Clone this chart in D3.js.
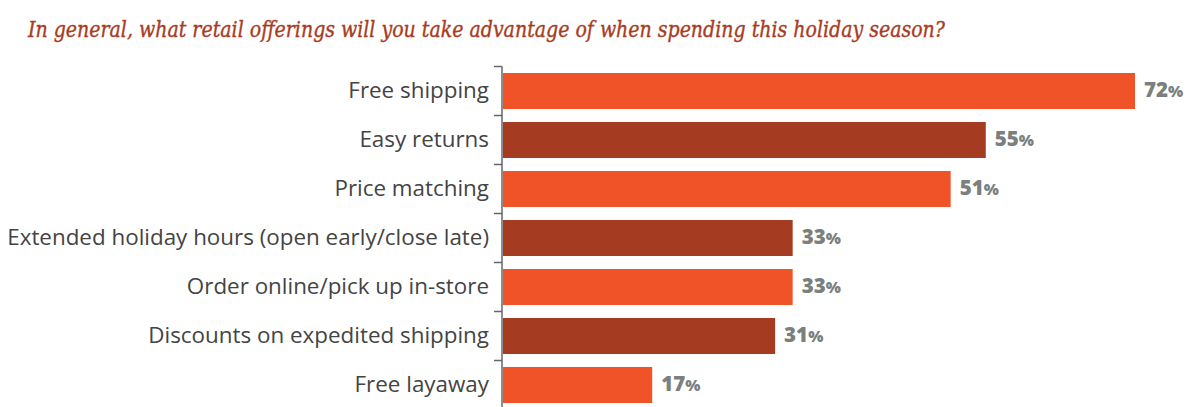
<!DOCTYPE html>
<html>
<head>
<meta charset="utf-8">
<script src="https://cdn.jsdelivr.net/npm/d3@7"></script>
<style>
  html, body { margin: 0; padding: 0; background: #ffffff; }
  svg { display: block; }
</style>
</head>
<body>
<svg id="chart" width="1194" height="407"></svg>
<script>
// Survey question and answers
const title = "In general, what retail offerings will you take advantage of when spending this holiday season?";
const categories = [
  "Free shipping",
  "Easy returns",
  "Price matching",
  "Extended holiday hours (open early/close late)",
  "Order online/pick up in-store",
  "Discounts on expedited shipping",
  "Free layaway"
];
const values = [72, 55, 51, 33, 33, 31, 17];
const barColors = ["#f05327", "#a53c22"];

const svg = d3.select("#chart");

// Scales
const x = d3.scaleLinear().domain([0, 72]).range([503, 1135]);
const y = d3.scaleBand()
  .domain(categories)
  .range([66.5, 409.5])
  .paddingInner(0.265)
  .paddingOuter(0.1325);
const halfGap = (y.step() - y.bandwidth()) / 2;

// Title
svg.append("text")
  .attr("x", 28)
  .attr("y", 37)
  .attr("textLength", 917)
  .attr("lengthAdjust", "spacingAndGlyphs")
  .style("font-family", "'DejaVu Serif', serif")
  .style("font-style", "italic")
  .style("font-size", "23px")
  .style("fill", "#a83c22")
  .style("stroke", "#a83c22")
  .style("stroke-width", 0.4)
  .text(title);

// Bars
svg.append("g")
  .selectAll("rect")
  .data(categories)
  .join("rect")
  .attr("x", x(0))
  .attr("y", d => y(d))
  .attr("width", (d, i) => x(values[i]) - x(0))
  .attr("height", y.bandwidth())
  .attr("fill", (d, i) => barColors[i % 2]);

// Axis line with ticks between categories
const axisG = svg.append("g");
axisG.append("line")
  .attr("x1", 502).attr("x2", 502)
  .attr("y1", y(categories[0]) - halfGap)
  .attr("y2", 407)
  .attr("stroke", "#666")
  .attr("stroke-width", 1.5);
axisG.selectAll(".tick")
  .data(categories)
  .join("line")
  .attr("x1", 494).attr("x2", 502)
  .attr("y1", d => y(d) - halfGap)
  .attr("y2", d => y(d) - halfGap)
  .attr("stroke", "#666")
  .attr("stroke-width", 1.5);

// Category labels
svg.append("g")
  .selectAll("text")
  .data(categories)
  .join("text")
  .attr("x", 489)
  .attr("y", d => y(d) + y.bandwidth() / 2)
  .attr("dy", "0.3em")
  .attr("text-anchor", "end")
  .style("font-family", "'Open Sans', sans-serif")
  .style("font-size", "22.4px")
  .style("fill", "#444")
  .text(d => d);

// Value labels
const vl = svg.append("g")
  .selectAll("text")
  .data(categories)
  .join("text")
  .attr("x", (d, i) => x(values[i]) + 9)
  .attr("y", d => y(d) + y.bandwidth() / 2)
  .attr("dy", "0.4em")
  .style("font-family", "'Open Sans', sans-serif")
  .style("font-weight", "800")
  .style("fill", "#7a807e");
vl.append("tspan").style("font-size", "20.5px").text((d, i) => values[i]);
vl.append("tspan").style("font-size", "16px").text("%");
</script>
</body>
</html>
